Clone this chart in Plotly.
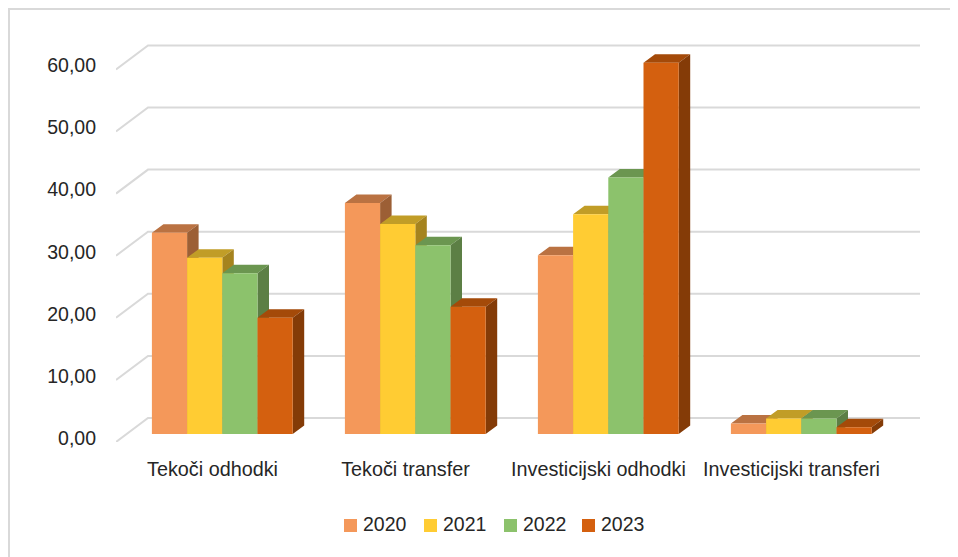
import plotly.graph_objects as go

categories = ["Tekoči odhodki", "Tekoči transfer", "Investicijski odhodki", "Investicijski transferi"]
years = ["2020", "2021", "2022", "2023"]
v2020 = [32.4, 37.2, 28.8, 1.7]
v2021 = [28.4, 33.8, 35.4, 2.5]
v2022 = [25.9, 30.4, 41.3, 2.5]
v2023 = [18.7, 20.5, 59.8, 1.1]
series = [v2020, v2021, v2022, v2023]
y_ticks = [0, 10, 20, 30, 40, 50, 60]
y_tick_labels = ["0,00", "10,00", "20,00", "30,00", "40,00", "50,00", "60,00"]
front_colors = ["#F4985A", "#FFCC33", "#8CC26C", "#D4600F"]
top_colors = ["#BA7242", "#C19D27", "#6B9650", "#A44A09"]
side_colors = ["#9C5F35", "#A5831E", "#5C7F45", "#843B07"]

# pixel geometry (the page keeps an 8 px body margin, so figure coords = page coords - 8)
OFF = 8
W, H = 958 - OFF, 557 - OFF
L, R, T, B = 116 - OFF, 920 - OFF, 40 - OFF, 442 - OFF
PX_X = 193.0        # px per category
PX_Y = 6.21         # px per value unit
x0 = -0.5
x1 = x0 + (R - L) / PX_X
y1 = (B - T) / PX_Y
wall_dx, wall_dy = 32 / PX_X, 24 / PX_Y
bar_dx, bar_dy = 9.8 / PX_X, 8 / PX_Y
depth_dx, depth_dy = 11.5 / PX_X, 8.5 / PX_Y
bar_w = 35.2 / PX_X
GRID = "#D9D9D9"

fig = go.Figure()

for t in y_ticks:
    fig.add_trace(go.Scatter(
        x=[x0, x0 + wall_dx, x1], y=[t, t + wall_dy, t + wall_dy],
        mode="lines", line=dict(color=GRID, width=2), hoverinfo="skip",
        showlegend=False, zorder=0, cliponaxis=False))

for i, vals in enumerate(series):
    tx, ty, sx, sy, fx = [], [], [], [], []
    for c, v in enumerate(vals):
        left = c - 2 * bar_w + i * bar_w + bar_dx
        right = left + bar_w
        bot = bar_dy
        top = v + bar_dy
        tx += [left, right, right + depth_dx, left + depth_dx, left, None]
        ty += [top, top, top + depth_dy, top + depth_dy, top, None]
        sx += [right, right + depth_dx, right + depth_dx, right, right, None]
        sy += [bot, bot + depth_dy, top + depth_dy, top, bot, None]
        fx.append((left + right) / 2)
    z = 3 * i + 1
    fig.add_trace(go.Scatter(x=tx, y=ty, mode="lines", fill="toself", fillcolor=top_colors[i],
                             line=dict(width=0, color=top_colors[i]), hoverinfo="skip",
                             showlegend=False, zorder=z))
    fig.add_trace(go.Scatter(x=sx, y=sy, mode="lines", fill="toself", fillcolor=side_colors[i],
                             line=dict(width=0, color=side_colors[i]), hoverinfo="skip",
                             showlegend=False, zorder=z))
    fig.add_trace(go.Bar(x=fx, y=vals, base=bar_dy, width=bar_w, name=years[i],
                         marker=dict(color=front_colors[i], line=dict(width=0)),
                         showlegend=False, zorder=z + 1))

# card border: top and left edges run off the page on the right and bottom
fig.add_shape(type="rect", xref="paper", yref="paper",
              x0=(9 - OFF - L) / (R - L), x1=(W + 12 - L) / (R - L),
              y0=(B - H - 12) / (B - T), y1=(B - 9 + OFF) / (B - T),
              line=dict(color="#D9D9D9", width=2), fillcolor="rgba(0,0,0,0)", layer="below")

# legend
FONT = "Liberation Sans, Arial"
leg_x = [344 - OFF, 424 - OFF, 504 - OFF, 582 - OFF]
leg_y = 525.5 - OFF
for i, y in enumerate(years):
    xa = leg_x[i]
    fig.add_shape(type="rect", xref="paper", yref="paper",
                  x0=(xa - L) / (R - L), x1=(xa + 13 - L) / (R - L),
                  y0=(B - leg_y - 6.5) / (B - T), y1=(B - leg_y + 6.5) / (B - T),
                  line=dict(width=0), fillcolor=front_colors[i])
    fig.add_annotation(text=y, xref="paper", yref="paper", showarrow=False,
                       x=(xa + 19 - L) / (R - L), y=(B - leg_y + 1.5) / (B - T),
                       xanchor="left", yanchor="middle",
                       xshift=-2,
                       font=dict(family=FONT, size=19.5, color="#262626"))

fig.update_layout(
    template="none",
    width=W, height=H, autosize=False,
    margin=dict(l=L, r=W - R, t=T, b=H - B, pad=0),
    paper_bgcolor="white", plot_bgcolor="rgba(0,0,0,0)",
    barmode="overlay", showlegend=False,
    font=dict(family=FONT, color="#262626"),
    xaxis=dict(range=[x0, x1], tickmode="array", tickvals=[0, 1, 2, 3], ticktext=categories,
               showgrid=False, zeroline=False, showline=False, ticks="", automargin=False,
               tickangle=0, tickfont=dict(family=FONT, size=19.8, color="#262626"),
               ticklabelstandoff=13),
    yaxis=dict(range=[0, y1], tickmode="array", tickvals=y_ticks, ticktext=y_tick_labels,
               showgrid=False, zeroline=False, showline=False, ticks="", automargin=False,
               tickfont=dict(family=FONT, size=19.5, color="#262626"),
               ticklabelstandoff=19, ticklabelshift=-4),
)
fig.write_html("out.html", default_width=f"{W}px", default_height=f"{H}px")
